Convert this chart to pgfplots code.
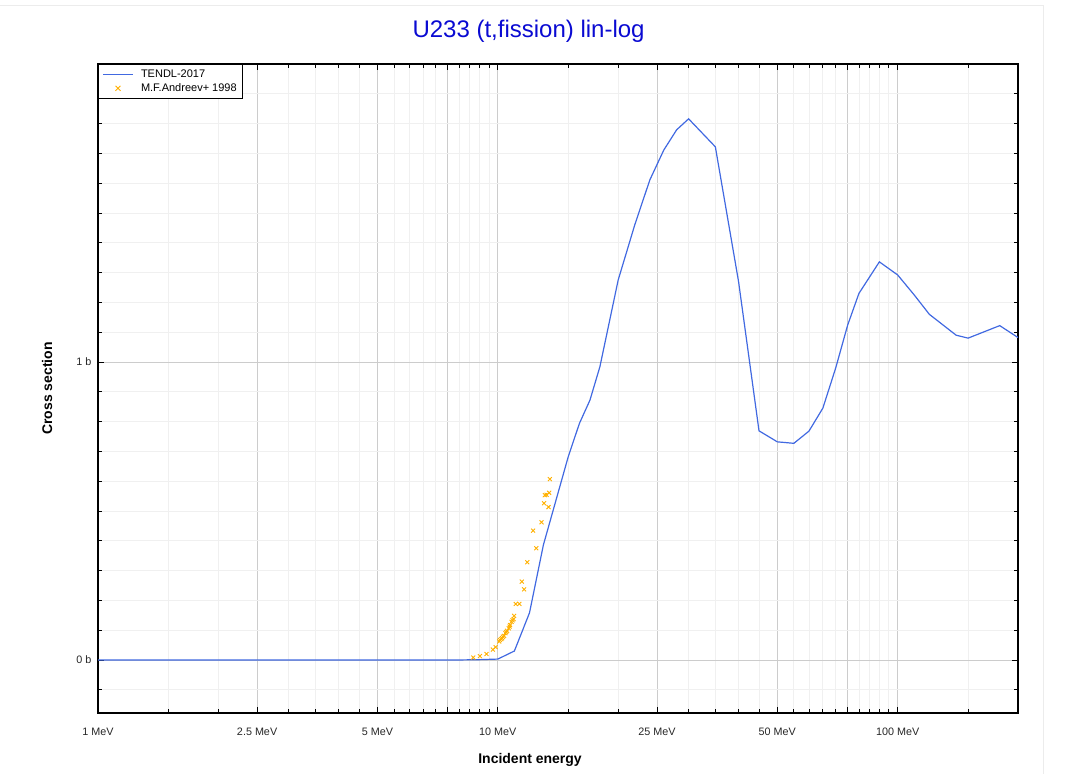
\documentclass[border=0pt]{standalone}
\usepackage{fontspec}
\setmainfont{Liberation Sans}
\usepackage{pgfplots}
\pgfplotsset{compat=1.18}
\definecolor{tendl}{RGB}{65,105,225}
\definecolor{andr}{RGB}{255,176,0}
\definecolor{ttl}{RGB}{10,10,210}
\pgfplotsset{
  lineleg/.style={legend image code/.code={\path[draw=none,fill=none] (0pt,0pt) (36pt,0pt);\draw[##1] (0pt,0pt) -- (30pt,0pt);}},
  markleg/.style={legend image code/.code={\path[draw=none,fill=none] (0pt,0pt) (36pt,0pt);\draw[##1,mark size=3.5pt] plot coordinates {(15pt,0pt)};}},
}
\begin{document}
\begin{tikzpicture}
\path[use as bounding box] (0pt,0pt) rectangle (1067pt,774pt);
\draw[gray!15, line width=0.8pt] (0pt,769pt) -- (1043pt,769pt) -- (1043pt,0pt);
\begin{axis}[
  at={(98pt,61pt)}, anchor=south west,
  scale only axis, width=920pt, height=649pt,
  xmode=log, log basis x=10,
  xmin=1, xmax=200, ymin=-0.178, ymax=2.0,
  xtick={1,2.5,5,7.5,10,25,50,75,100},
  xticklabels={1 MeV,2.5 MeV,5 MeV,,10 MeV,25 MeV,50 MeV,,100 MeV},
  minor xtick={1.5,2,3,3.5,4,4.5,5.5,6,6.5,7,8,8.5,9,9.5,15,20,30,35,40,45,55,60,65,70,80,85,90,95,150},
  ytick={0,1}, yticklabels={0 b,1 b},
  minor ytick={-0.1,0.1,0.2,0.3,0.4,0.5,0.6,0.7,0.8,0.9,1.1,1.2,1.3,1.4,1.5,1.6,1.7,1.8,1.9},
  grid=both,
  major grid style={black!20, line width=0.8pt},
  minor grid style={black!6, line width=0.8pt},
  axis line style={black, line width=1.2pt},
  tick style={black, line width=0.8pt},
  major tick length=6pt, minor tick length=4pt, tick align=inside,
  /pgf/number format/assume math mode=true,
  tick label style={font=\fontsize{10.8}{13}\selectfont, text=black!85},
  xticklabel style={anchor=base, yshift=-22pt},
  yticklabel style={anchor=east, xshift=-3pt},
  title={U233 (t,fission) lin-log},
  title style={at={(axis description cs:0.468,1)}, anchor=base, yshift=20.7pt, font=\fontsize{24}{28}\selectfont, text=ttl},
  xlabel={Incident energy},
  xlabel style={at={(axis description cs:0.4696,0)}, anchor=base, yshift=-50pt, font=\bfseries\fontsize{14}{16}\selectfont},
  ylabel={Cross section},
  ylabel style={at={(axis description cs:-0.0554,0.5)}, anchor=center, font=\bfseries\fontsize{14}{16}\selectfont},
  legend style={at={(0,1)}, anchor=north west, draw=black, line width=0.8pt,
    font=\fontsize{11}{13}\selectfont, inner xsep=4pt, inner ysep=3.5pt, row sep=0.5pt,
    cells={anchor=west}},
]
\addplot[tendl, line width=1.2pt, mark=none, lineleg] coordinates {
(1,0) (2,0) (4,0) (6,0) (8,0) (9,0.001) (10,0.003) (11,0.03) (12,0.158) (13,0.386)
(15,0.682) (16,0.794) (17,0.872) (18,0.984) (20,1.275) (22,1.46) (24,1.611) (26,1.711)
(28,1.779) (30,1.816) (35,1.722) (40,1.27) (45,0.769) (50,0.732) (55,0.727) (60,0.768)
(65,0.845) (70,0.98) (75,1.124) (80,1.23) (90,1.336) (100,1.292) (110,1.225) (120,1.16)
(140,1.09) (150,1.08) (180,1.122) (200,1.082)
};
\addlegendentry{TENDL-2017}
\addplot[andr, only marks, mark=x, mark size=2.8pt, line width=0.9pt, markleg] coordinates {
(8.68,0.008) (9.02,0.013) (9.37,0.020) (9.72,0.035) (9.87,0.043) (10.08,0.062)
(10.12,0.067) (10.2,0.070) (10.25,0.073) (10.3,0.078) (10.37,0.081) (10.45,0.090)
(10.5,0.094) (10.55,0.098) (10.65,0.106) (10.7,0.112) (10.73,0.117) (10.82,0.128)
(10.88,0.133) (10.95,0.137) (10.98,0.148) (11.09,0.188) (11.32,0.188) (11.48,0.263)
(11.63,0.237) (11.85,0.328) (12.25,0.434) (12.48,0.375) (12.86,0.462) (13.05,0.526)
(13.39,0.513) (13.11,0.553) (13.24,0.554) (13.44,0.561) (13.49,0.607)
};
\addlegendentry{M.F.Andreev+ 1998}
\end{axis}
\end{tikzpicture}
\end{document}
